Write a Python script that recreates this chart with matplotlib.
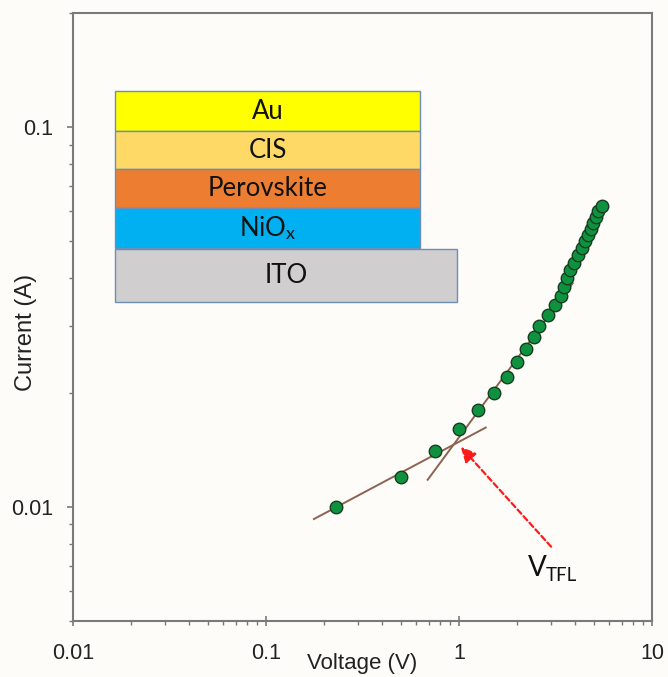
import matplotlib
matplotlib.use("Agg")
import matplotlib.pyplot as plt
from matplotlib.patches import Rectangle
from matplotlib.ticker import FixedLocator, FixedFormatter, LogLocator, NullFormatter

plt.rcParams['font.family'] = ['Liberation Sans', 'DejaVu Sans']
plt.rcParams['mathtext.fontset'] = 'custom'
plt.rcParams['mathtext.rm'] = 'Lato'
plt.rcParams['mathtext.it'] = 'Lato:italic'
plt.rcParams['mathtext.bf'] = 'Lato:bold'

# ---- data ----
voltage = [0.23, 0.50, 0.75, 1.00, 1.26, 1.52, 1.77, 2.00, 2.22, 2.45, 2.60,
           2.88, 3.14, 3.38, 3.51, 3.61, 3.76, 3.96, 4.12, 4.32, 4.50, 4.68,
           4.83, 4.97, 5.11, 5.27, 5.53]
current = [0.010, 0.012, 0.014, 0.016, 0.018, 0.020, 0.022, 0.024, 0.026,
           0.028, 0.030, 0.032, 0.034, 0.036, 0.038, 0.040, 0.042, 0.044,
           0.046, 0.048, 0.050, 0.052, 0.054, 0.056, 0.058, 0.060, 0.062]

fit_ohmic_v = [0.177, 1.375]
fit_ohmic_i = [0.00928, 0.01617]
fit_tfl_v = [0.688, 3.88]
fit_tfl_i = [0.01178, 0.0388]

arrow_head = (1.02, 0.01439)
arrow_tail = (3.0, 0.00785)
vtfl_pos = (2.27, 0.00658)
vtfl_main = "V"
vtfl_sub = "TFL"

x_ticks = [0.01, 0.1, 1, 10]
x_ticklabels = ["0.01", "0.1", "1", "10"]
y_ticks = [0.01, 0.1]
y_ticklabels = ["0.01", "0.1"]

layer_names = ["Au", "CIS", "Perovskite", "NiO$_{\\mathrm{x}}$", "ITO"]
layer_colors = ["#FFFF00", "#FFD966", "#ED7D31", "#00B0F0", "#D0CECE"]

# layout of the stack (axes fractions): x0, x1, y0, y1
layer_boxes = [
    (0.0725, 0.5993, 0.8059, 0.8717),
    (0.0725, 0.5993, 0.7434, 0.8059),
    (0.0725, 0.5993, 0.6793, 0.7434),
    (0.0725, 0.5993, 0.6135, 0.6793),
    (0.0725, 0.6632, 0.5247, 0.6118),
]

bg = "#fdfcf9"
fig = plt.figure(figsize=(6.68, 6.77), dpi=100, facecolor=bg)
ax = fig.add_axes([0.1093, 0.0827, 0.8668, 0.8981], facecolor=bg)

ax.set_xscale('log')
ax.set_yscale('log')
ax.set_xlim(0.01, 10)
ax.set_ylim(0.005, 0.2)

# fit lines
ax.plot(fit_ohmic_v, fit_ohmic_i, color="#8C6352", lw=1.4, zorder=2)
ax.plot(fit_tfl_v, fit_tfl_i, color="#8C6352", lw=1.4, zorder=2)

# data
ax.plot(voltage, current, linestyle='none', marker='o', ms=9.0,
        markerfacecolor="#0F923F", markeredgecolor="#173d1f", markeredgewidth=1.0,
        zorder=3)

# arrow
ax.annotate("", xy=arrow_head, xytext=arrow_tail,
            arrowprops=dict(arrowstyle='-|>,head_length=0.45,head_width=0.22',
                            color='#FF1A1A', lw=1.6, linestyle=(0, (2.5, 1.5)),
                            mutation_scale=20, shrinkA=0, shrinkB=0),
            zorder=4)
ax.text(vtfl_pos[0], vtfl_pos[1], vtfl_main, fontsize=20, color="#111111",
        ha='left', va='baseline', family=['Lato', 'DejaVu Sans'])
ax.annotate(vtfl_sub, xy=vtfl_pos, xytext=(13, -3.5), textcoords='offset points',
            fontsize=13.5, color="#111111", ha='left', va='baseline',
            family=['Lato', 'DejaVu Sans'])

# layer stack
for name, col, (x0, x1, y0, y1) in zip(layer_names, layer_colors, layer_boxes):
    ax.add_patch(Rectangle((x0, y0), x1 - x0, y1 - y0, transform=ax.transAxes,
                           facecolor=col, edgecolor="#6E8FB5", lw=1.0, zorder=5))
    ax.text((x0 + x1) / 2, (y0 + y1) / 2, name, transform=ax.transAxes,
            ha='center', va='center', fontsize=18.5, color="#111111",
            family=['Lato', 'DejaVu Sans'], zorder=6)

# ticks
ax.xaxis.set_major_locator(FixedLocator(x_ticks))
ax.xaxis.set_major_formatter(FixedFormatter(x_ticklabels))
ax.xaxis.set_minor_locator(LogLocator(base=10, subs=range(2, 10)))
ax.xaxis.set_minor_formatter(NullFormatter())
ax.yaxis.set_major_locator(FixedLocator(y_ticks))
ax.yaxis.set_major_formatter(FixedFormatter(y_ticklabels))
ax.yaxis.set_minor_locator(LogLocator(base=10, subs=range(2, 10)))
ax.yaxis.set_minor_formatter(NullFormatter())

spine_col = "#7a7a7a"
for s in ax.spines.values():
    s.set_color(spine_col)
    s.set_linewidth(1.5)

ax.tick_params(axis='x', which='major', direction='inout', length=7, width=1.2,
               color=spine_col, labelsize=15.5, pad=12.5, labelcolor="#222222")
ax.tick_params(axis='x', which='minor', direction='out', length=3, width=1.0,
               color=spine_col)
ax.tick_params(axis='y', which='major', direction='out', length=4.5, width=1.2,
               color=spine_col, labelsize=15.5, pad=10, labelcolor="#222222")
ax.tick_params(axis='y', which='minor', direction='out', length=3, width=1.0,
               color=spine_col)

ax.set_xlabel("Voltage (V)", fontsize=16, color="#222222", va='bottom')
ax.set_ylabel("Current (A)", fontsize=17, color="#222222")
ax.xaxis.set_label_coords(0.5, -0.0875)
ax.yaxis.set_label_coords(-0.062, 0.474)

fig.savefig("out.png", dpi=100, facecolor=bg)
